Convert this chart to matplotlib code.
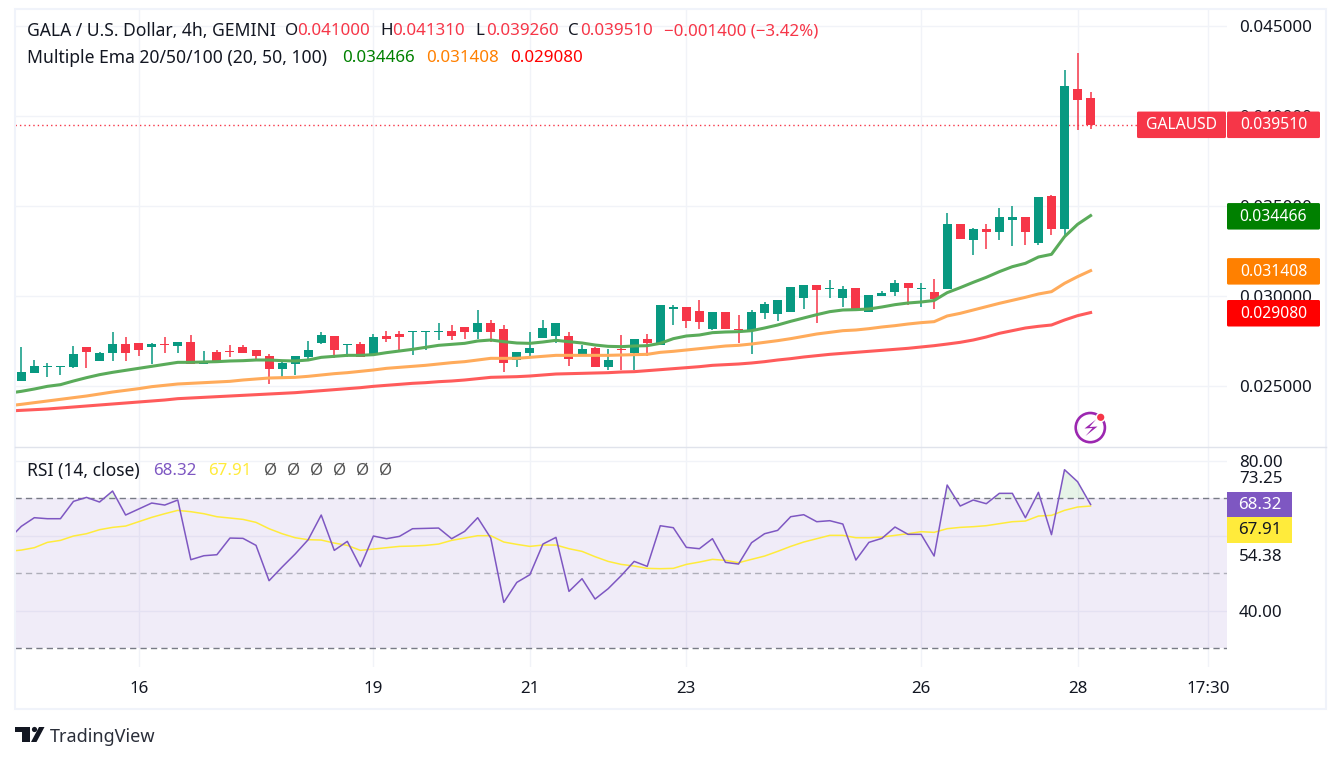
import numpy as np
import matplotlib
matplotlib.use("Agg")
import matplotlib.pyplot as plt
from matplotlib.patches import Rectangle, Polygon, Circle, FancyBboxPatch

W, H = 1341, 762

# ohlc of the 4h candles, in millionths of a dollar
opens = [25296, 25740, 26055, 26055, 26055, 27166, 26389, 26833, 27333, 27389,
         27166, 27333, 27222, 27444, 26222, 26889, 26944, 27166, 27000, 26666,
         25944, 26222, 26611, 27389, 27777, 27277, 27333, 26722, 27777, 27889,
         28000, 28000, 28000, 28055, 28277, 28000, 28500, 28166, 26444, 26833,
         27666, 27777, 27777, 26666, 27111, 26055, 27055, 26833, 27611, 27277,
         29277, 29389, 29166, 28167, 29111, 28167, 28056, 29056, 29000, 29111,
         29889, 30611, 30389, 29889, 30444, 29111, 30000, 30222, 30722, 30389,
         30222, 30389, 34000, 33111, 33722, 33555, 34222, 34389, 32944, 35555,
         33722, 41500, 41000]
closes = [25777, 26111, 26111, 26111, 26777, 26889, 26833, 27333, 26833, 27000,
          27333, 27277, 27444, 26222, 26389, 26389, 26889, 26833, 26666, 25944,
          26277, 26666, 27000, 27833, 27000, 27333, 26611, 27722, 27611, 27722,
          28055, 28055, 28055, 27777, 28000, 28500, 28000, 26277, 26889, 27111,
          28222, 28500, 26500, 27055, 26055, 26444, 27000, 27611, 27389, 29500,
          29389, 28611, 28555, 29111, 28167, 28111, 29111, 29556, 29778, 30500,
          30611, 30333, 30444, 30389, 29278, 30056, 30167, 30722, 30444, 30444,
          29833, 34000, 33166, 33722, 33555, 34389, 34389, 33555, 35500, 33722,
          41666, 40889, 39510]
highs = [27185, 26444, 26259, 26111, 27222, 27166, 26889, 28000, 27722, 27389,
         27389, 27722, 27444, 27833, 26944, 27000, 27277, 27277, 27000, 26777,
         26333, 26666, 27500, 28000, 27777, 27333, 27444, 27889, 28055, 28055,
         28055, 28055, 28500, 28389, 28277, 29222, 28666, 28389, 26889, 28000,
         28666, 28500, 28000, 27277, 27166, 27055, 27833, 27611, 27889, 29500,
         29500, 29389, 29777, 29111, 29111, 28944, 29222, 29667, 29778, 30500,
         30611, 30611, 30889, 30556, 30444, 30056, 30278, 30889, 30722, 30722,
         30944, 34611, 34000, 33778, 34000, 34889, 35000, 34389, 35500, 35611,
         42555, 43500, 41310]
lows = [25296, 25740, 25518, 25611, 26000, 26000, 26389, 26389, 26389, 26666,
        26222, 26833, 26833, 26222, 26222, 26389, 26611, 26833, 26444, 25111,
        25444, 25611, 26444, 27333, 26555, 26611, 26611, 26666, 27444, 27000,
        26722, 27000, 27555, 27555, 27611, 27611, 27444, 25777, 26055, 26666,
        27666, 27389, 26111, 26666, 26055, 25889, 25889, 25889, 26666, 27277,
        28389, 28222, 28166, 28111, 28167, 27389, 26778, 28722, 28611, 29111,
        29278, 28500, 29889, 29389, 29167, 29111, 30000, 30000, 29500, 29389,
        29278, 30389, 33166, 32278, 32611, 33111, 32778, 32833, 32833, 33389,
        33389, 39222, 39260]

# indicator lines start one bar before the first visible candle
ema20 = [24600, 24703, 24833, 24981, 25074, 25277, 25463, 25629, 25759, 25870, 25981,
         26092, 26203, 26314, 26314, 26333, 26352, 26389, 26407, 26444, 26444,
         26407, 26389, 26444, 26592, 26648, 26703, 26703, 26740, 26852, 26944,
         27037, 27148, 27259, 27314, 27370, 27500, 27555, 27463, 27389, 27370,
         27444, 27537, 27463, 27389, 27277, 27203, 27185, 27222, 27240, 27370,
         27630, 27778, 27833, 27963, 28000, 28019, 28074, 28222, 28389, 28593,
         28778, 28963, 29130, 29222, 29241, 29278, 29389, 29519, 29611, 29667,
         29750, 30185, 30463, 30759, 31037, 31352, 31629, 31815, 32166, 32315,
         33296, 33981, 34466]
ema50 = [23900, 23981, 24074, 24166, 24259, 24352, 24444, 24555, 24666, 24759, 24852,
         24963, 25037, 25111, 25148, 25185, 25222, 25259, 25333, 25389, 25444,
         25463, 25481, 25537, 25611, 25685, 25740, 25814, 25889, 25981, 26037,
         26092, 26148, 26222, 26296, 26352, 26444, 26537, 26537, 26537, 26592,
         26648, 26703, 26703, 26703, 26703, 26703, 26722, 26740, 26759, 26870,
         26926, 27000, 27074, 27148, 27222, 27259, 27333, 27426, 27519, 27630,
         27759, 27889, 27981, 28074, 28111, 28185, 28278, 28352, 28444, 28519,
         28574, 28889, 29037, 29222, 29407, 29592, 29759, 29926, 30111, 30241,
         30703, 31074, 31408]
ema100 = [23610, 23648, 23685, 23722, 23777, 23833, 23889, 23944, 24000, 24055, 24111,
          24166, 24222, 24296, 24333, 24370, 24407, 24444, 24481, 24518, 24555,
          24592, 24629, 24685, 24740, 24796, 24852, 24907, 24981, 25037, 25092,
          25148, 25185, 25240, 25277, 25333, 25407, 25481, 25500, 25518, 25555,
          25611, 25666, 25685, 25703, 25722, 25740, 25777, 25796, 25852, 25907,
          25963, 26018, 26074, 26148, 26185, 26222, 26278, 26352, 26444, 26519,
          26611, 26685, 26759, 26815, 26870, 26926, 26981, 27037, 27093, 27167,
          27240, 27330, 27426, 27555, 27722, 27926, 28074, 28222, 28315, 28389,
          28666, 28907, 29080]
rsi = [58.93, 62.49, 64.80, 64.53, 64.53, 69.15, 70.22, 68.97, 71.91, 65.51, 67.11,
       68.71, 68.17, 69.51, 53.60, 54.66, 54.93, 59.37, 59.29, 57.42, 48.00,
       51.64, 55.11, 58.93, 65.51, 56.09, 58.49, 51.73, 59.91, 59.20, 59.82,
       61.86, 61.95, 62.04, 59.20, 61.15, 64.80, 59.37, 42.22, 47.55, 49.60,
       57.77, 59.55, 45.15, 48.53, 43.11, 45.86, 49.33, 53.15, 51.82, 62.66,
       62.13, 56.89, 56.53, 59.20, 52.89, 52.44, 58.13, 60.53, 61.42, 65.06,
       65.60, 63.73, 64.00, 63.11, 53.51, 58.22, 59.30, 62.31, 60.36, 60.36,
       54.58, 73.51, 67.91, 69.51, 68.53, 71.29, 71.29, 64.80, 71.56, 60.27,
       77.60, 74.40, 68.32]
rsi_ma = [55.82, 56.17, 56.80, 58.22, 58.75, 59.91, 60.53, 61.60, 62.22, 62.57, 63.73,
          64.89, 65.86, 66.75, 66.40, 65.86, 65.06, 64.71, 64.35, 63.55, 61.86,
          60.53, 59.46, 58.93, 58.84, 58.04, 57.42, 56.09, 56.44, 56.80, 57.15,
          57.24, 57.42, 57.77, 58.75, 59.37, 60.00, 60.00, 58.31, 57.69, 57.15,
          57.51, 57.51, 56.53, 55.82, 54.40, 53.15, 52.35, 51.91, 51.29, 51.20,
          51.29, 52.35, 52.97, 53.69, 53.42, 52.80, 53.69, 54.57, 55.82, 57.15,
          58.31, 59.20, 60.09, 60.09, 59.46, 59.46, 59.64, 60.09, 60.53, 61.07,
          60.89, 61.87, 62.22, 62.40, 62.67, 63.20, 63.73, 63.91, 65.24, 65.42,
          66.76, 67.64, 67.91]

price_ticks = [0.025, 0.030, 0.035, 0.040, 0.045]
rsi_ticks = [40, 60, 80]
rsi_tick_labels = ["40.00", "", "80.00"]
time_ticks = [9, 27, 39, 51, 69, 81, 91]
time_labels = ["16", "19", "21", "23", "26", "28", "17:30"]

last_close = 0.03951
last_ema = [0.034466, 0.031408, 0.029080]
last_ema_labels = ["0.034466", "0.031408", "0.029080"]
ema_tag_colors = ["#008000", "#ff8000", "#ff0000"]

GREEN = "#089981"
RED = "#f63648"
GRID = "#f1f3f8"
TEXT = "#131722"
FONT = "Noto Sans"
FS = 12.2
FS_WORDS = 12.6

plt.rcParams["font.family"] = [FONT, "DejaVu Sans"]


def rect(x0, y0, x1, y1):
    return [x0 / W, 1 - y1 / H, (x1 - x0) / W, (y1 - y0) / H]


fig = plt.figure(figsize=(W / 100, H / 100), dpi=100, facecolor="white")
ax = fig.add_axes(rect(15, 9, 1227, 447))
ax_rsi = fig.add_axes(rect(15, 447, 1227, 667))

xlim = (-0.483, 92.46)
for a in (ax, ax_rsi):
    a.set_xlim(*xlim)
    a.set_facecolor("white")
    for s in a.spines.values():
        s.set_visible(False)
    a.set_xticks(time_ticks)
    a.grid(True, color=GRID, linewidth=1)
    a.set_axisbelow(True)
    a.yaxis.tick_right()
    a.tick_params(length=0, labelsize=FS, labelcolor=TEXT)

# price pane
ax.set_ylim(0.021611, 0.045944)
ax.set_yticks(price_ticks)
ax.set_yticklabels(["%.6f" % p for p in price_ticks])
ax.tick_params(axis="y", pad=8.6)
ax.tick_params(axis="x", labelbottom=False)

o = np.array(opens) / 1e6
c = np.array(closes) / 1e6
hi = np.array(highs) / 1e6
lo = np.array(lows) / 1e6
idx = np.arange(len(o))
colors = [GREEN if c[i] >= o[i] else RED for i in idx]

x_line = np.arange(-1, len(o))
ax.axhline(last_close, color=RED, linewidth=1, linestyle=(0, (1, 2.2)), zorder=1)
ax.vlines(idx, lo, hi, colors=colors, linewidth=1.1, zorder=2)
ax.bar(idx, np.abs(c - o), bottom=np.minimum(o, c), width=0.69, color=colors, zorder=3)
ax.plot(x_line, np.array(ema20) / 1e6, color="#5aab5a", linewidth=2.2, zorder=4)
ax.plot(x_line, np.array(ema50) / 1e6, color="#ffab5b", linewidth=2.2, zorder=4)
ax.plot(x_line, np.array(ema100) / 1e6, color="#ff5b5b", linewidth=2.2, zorder=4)

# rsi pane
ax_rsi.set_ylim(24.99, 83.65)
ax_rsi.set_yticks(rsi_ticks)
ax_rsi.set_yticklabels(rsi_tick_labels)
ax_rsi.tick_params(axis="y", pad=8.6)
ax_rsi.set_xticklabels(time_labels)
ax_rsi.tick_params(axis="x", pad=10)
ax_rsi.axhspan(30, 70, color="#7e57c2", alpha=0.11, linewidth=0, zorder=1)
ax_rsi.axhline(70, color="#787b86", linewidth=1, linestyle=(0, (4.5, 3)), zorder=2)
ax_rsi.axhline(50, color="#787b86", alpha=0.55, linewidth=1, linestyle=(0, (4.5, 3)), zorder=2)
ax_rsi.axhline(30, color="#787b86", linewidth=1, linestyle=(0, (4.5, 3)), zorder=2)
rsi_arr = np.array(rsi)
ax_rsi.fill_between(x_line, rsi_arr, 70, where=rsi_arr > 70, interpolate=True,
                    color="#4caf50", alpha=0.13, linewidth=0, zorder=2)
ax_rsi.plot(x_line, rsi_ma, color="#ffeb3b", linewidth=1.1, zorder=3)
ax_rsi.plot(x_line, rsi, color="#7e57c2", linewidth=1.1, zorder=4)
lab_tr = ax_rsi.get_yaxis_transform()
ax_rsi.text(1 + 12 / 1212, 75.2, "73.25", transform=lab_tr, fontsize=FS, color=TEXT, va="center")
ax_rsi.text(1 + 12 / 1212, 54.38, "54.38", transform=lab_tr, fontsize=FS, color=TEXT, va="center")

# overlay in pixels for frame, tags, legend text and logo
top = fig.add_axes([0, 0, 1, 1], facecolor="none", zorder=10)
top.set_xlim(0, W)
top.set_ylim(H, 0)
top.axis("off")


def label(x, y, s, color=TEXT, ha="left", size=FS, weight="normal"):
    top.text(x, y, s, color=color, ha=ha, va="center", fontsize=size, fontweight=weight)


def tag(x0, x1, yc, s, bg, fg="white", h=26.5):
    top.add_patch(FancyBboxPatch((x0 + 1, yc - h / 2 + 1), x1 - x0 - 2, h - 2,
                                 boxstyle="round,pad=1,rounding_size=1.5",
                                 facecolor=bg, edgecolor="none", zorder=5))
    top.text((x0 + x1) / 2, yc + 0.5, s, color=fg, ha="center", va="center",
             fontsize=11.3, fontweight="bold", zorder=6)


def price_y(p):
    return H - ax.transData.transform((0, p))[1]


top.add_patch(Rectangle((15, 9), 1311, 700, fill=False, edgecolor="#f0f3fa", linewidth=1.5))
top.plot([15, 1326], [447, 447], color="#e0e3eb", linewidth=1)

tag(1137, 1226, price_y(last_close), "GALAUSD", RED)
tag(1227, 1320, price_y(last_close), "0.039510", RED)
for val, txt, col in zip(last_ema, last_ema_labels, ema_tag_colors):
    tag(1227, 1320, price_y(val) + 0.7, txt, col)
top.add_patch(Rectangle((1227, 492), 65, 25, facecolor="#7e57c2", edgecolor="none", zorder=5))
top.add_patch(Rectangle((1227, 517), 65, 26, facecolor="#ffeb3b", edgecolor="none", zorder=5))
top.text(1259.5, 505, "68.32", color="white", ha="center", va="center", fontsize=FS, fontweight="bold", zorder=6)
top.text(1259.5, 530.5, "67.91", color=TEXT, ha="center", va="center", fontsize=FS, zorder=6)

label(27, 31, "GALA / U.S. Dollar, 4h, GEMINI", size=FS_WORDS)
label(285, 31, "O")
label(297, 31, "0.041000", RED)
label(380, 31, "H")
label(392, 31, "0.041310", RED)
label(475, 31, "L")
label(486, 31, "0.039260", RED)
label(568, 31, "C")
label(580, 31, "0.039510", RED)
label(664, 31, "\u22120.001400 (\u22123.42%)", RED)
label(27, 58, "Multiple Ema 20/50/100 (20, 50, 100)", size=FS_WORDS)
label(342, 58, "0.034466", "#008000")
label(426, 58, "0.031408", "#ff8000")
label(510, 58, "0.029080", "#ff0000")
label(27, 471, "RSI (14, close)", size=FS_WORDS)
label(153, 471, "68.32", "#7e57c2")
label(208, 471, "67.91", "#ffeb3b")
for xp in [264, 287, 310, 333, 356, 379]:
    label(xp, 471, "\u00d8", "#555555")

# tradingview mark
top.add_patch(Polygon([(15, 727), (30, 727), (30, 742), (22, 742), (22, 732), (15, 732)],
                      facecolor=TEXT, edgecolor="none"))
top.add_patch(Circle((34.5, 729.5), 2.6, facecolor=TEXT, edgecolor="none"))
top.add_patch(Polygon([(39, 727), (44.5, 727), (36.5, 742), (31, 742)], facecolor=TEXT, edgecolor="none"))
label(50, 736.5, "TradingView", "#2a2e39", size=13.0)

# lightning badge
top.add_patch(Circle((1090.3, 427.6), 14.6, fill=False, edgecolor="#9c27b0", linewidth=1.9))
top.add_patch(Polygon([(1096, 419.5), (1084.5, 428.5), (1092.5, 428), (1085.5, 436),
                       (1097.5, 426.5), (1089.5, 427)], facecolor="#9c27b0", edgecolor="none"))
top.add_patch(Circle((1100.7, 417.3), 5, facecolor="white", edgecolor="none"))
top.add_patch(Circle((1100.7, 417.3), 3.6, facecolor=RED, edgecolor="none"))

fig.savefig("out.png", dpi=100)
